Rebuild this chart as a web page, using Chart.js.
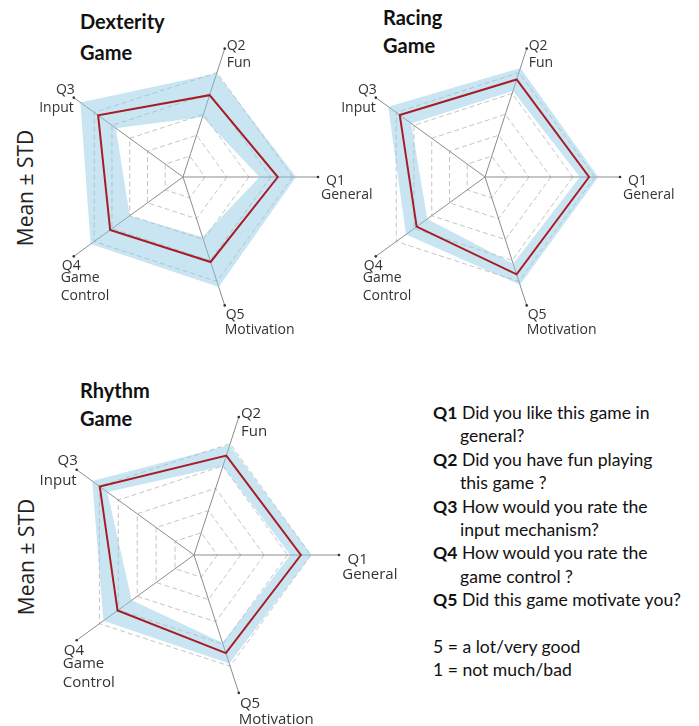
<!DOCTYPE html>
<html lang="en">
<head>
  <meta charset="UTF-8">
  <title>Game questionnaire</title>
  <script src="https://cdn.jsdelivr.net/npm/chart.js@4.4.1/dist/chart.umd.min.js"></script>
  <style>
    body {
      margin: 0;
      width: 699px;
      height: 726px;
      position: relative;
      overflow: hidden;
      background: #fff;
      font-family: Lato, sans-serif;
    }

    canvas {
      position: absolute;
    }

    .title {
      position: absolute;
      font-family: Lato, sans-serif;
      font-weight: bold;
      font-size: 20px;
      line-height: 20px;
      color: #111;
      white-space: nowrap;
    }

    .side {
      position: absolute;
      font-family: 'Open Sans', sans-serif;
      font-size: 21px;
      color: #222;
      white-space: nowrap;
      transform: translate(-50%, -50%) rotate(-90deg);
    }

    .legend {
      position: absolute;
      left: 433px;
      top: 401px;
      font-family: Lato, sans-serif;
      font-size: 17.6px;
      line-height: 23.4px;
      color: #111;
      white-space: nowrap;
    }

    .legend .ind {
      padding-left: 27px;
    }
  </style>
</head>
<body>
  <!-- titles -->
  <div class="title" style="left:80px; top:11px">Dexterity</div>
  <div class="title" style="left:80px; top:42px">Game</div>
  <div class="title" style="left:383px; top:7px">Racing</div>
  <div class="title" style="left:383px; top:35px">Game</div>
  <div class="title" style="left:80px; top:380px">Rhythm</div>
  <div class="title" style="left:80px; top:408px">Game</div>

  <div class="side" style="left:25px; top:188px">Mean ± STD</div>
  <div class="side" style="left:26px; top:557px">Mean ± STD</div>

  <canvas id="dexterity"></canvas>
  <canvas id="racing"></canvas>
  <canvas id="rhythm"></canvas>

  <!-- question key -->
  <div class="legend">
    <div><b>Q1</b> Did you like this game in</div>
    <div class="ind">general?</div>
    <div><b>Q2</b> Did you have fun playing</div>
    <div class="ind">this game ?</div>
    <div><b>Q3</b> How would you rate the</div>
    <div class="ind">input mechanism?</div>
    <div><b>Q4</b> How would you rate the</div>
    <div class="ind">game control ?</div>
    <div><b>Q5</b> Did this game motivate you?</div>
    <div>&nbsp;</div>
    <div>5 = a lot/very good</div>
    <div>1 = not much/bad</div>
  </div>

  <script>
    // questions Q1..Q5 and the words printed under them
    const questions = ['Q1', 'Q2', 'Q3', 'Q4', 'Q5'];
    const axisNames = [['General'], ['Fun'], ['Input'], ['Game', 'Control'], ['Motivation']];

    // mean score and standard deviation per question (Q1..Q5)
    const dexterityMean = [4.32, 3.92, 4.78, 4.10, 4.07];
    const dexterityStd  = [0.83, 1.05, 1.00, 1.10, 1.20];
    const racingMean    = [4.74, 4.67, 4.80, 3.85, 4.66];
    const racingStd     = [0.42, 0.55, 0.65, 0.60, 0.50];
    const rhythmMean    = [4.57, 4.47, 4.98, 4.04, 4.41];
    const rhythmStd     = [0.45, 0.48, 0.40, 0.75, 0.47];

    // Q1 sits on the right, then the axes go clockwise: Q5, Q4, Q3, Q2
    const drawOrder = [0, 4, 3, 2, 1];

    // label offsets from the dot at the end of each axis: [dx, dy, align] per line
    const labelPlace = [
      [[8, 4, 'left'], [3, 18, 'left']],
      [[2, -3, 'left'], [2, 14, 'left']],
      [[1, -8, 'right'], [0, 10, 'right']],
      [[-12, 10, 'left'], [-13, 22, 'left'], [-13, 40, 'left']],
      [[1, 10, 'left'], [0, 25, 'left']]
    ];

    const axisLabels = {
      id: 'axisLabels',
      afterDraw(chart, args, opts) {
        const r = chart.scales.r;
        const ctx = chart.ctx;
        const k = opts.k;
        ctx.save();
        ctx.font = opts.size + 'px "Open Sans"';
        ctx.fillStyle = '#333';
        ctx.textBaseline = 'middle';
        drawOrder.forEach((q, i) => {
          const p = r.getPointPosition(i, r.getDistanceFromCenterForValue(r.max));
          ctx.beginPath();
          ctx.arc(p.x, p.y, 1.3, 0, 2 * Math.PI);
          ctx.fill();
          const lines = [questions[q]].concat(axisNames[q]);
          lines.forEach((text, j) => {
            const [dx, dy, align] = labelPlace[q][j];
            ctx.textAlign = align;
            ctx.fillText(text, p.x + dx * k, p.y + dy * k);
          });
        });
        ctx.restore();
      }
    };

    function makeRadar(id, box, cx, cy, R, max, mean, std, fontSize) {
      const canvas = document.getElementById(id);
      canvas.width = box.w;
      canvas.height = box.h;
      canvas.style.left = box.x + 'px';
      canvas.style.top = box.y + 'px';

      const m = drawOrder.map(i => mean[i]);
      const upper = drawOrder.map(i => mean[i] + std[i]);
      const lower = drawOrder.map(i => mean[i] - std[i]);

      return new Chart(canvas.getContext('2d'), {
        type: 'radar',
        data: {
          labels: drawOrder.map(i => questions[i]),
          datasets: [{
            // mean line, drawn on top
            data: m,
            order: 0,
            fill: false,
            borderColor: '#a81c26',
            borderWidth: 2,
            pointRadius: 0
          }, {
            // +1 std, filled down to the -1 std line
            data: upper,
            order: 1,
            fill: '+1',
            backgroundColor: 'rgba(140,200,228,0.47)',
            borderColor: 'rgba(0,0,0,0)',
            pointRadius: 0
          }, {
            data: lower,
            order: 2,
            fill: false,
            borderColor: 'rgba(0,0,0,0)',
            pointRadius: 0
          }]
        },
        options: {
          responsive: false,
          animation: false,
          layout: {
            padding: {
              left: cx - R - box.x,
              top: cy - R - box.y,
              right: box.x + box.w - cx - R,
              bottom: box.y + box.h - cy - R
            }
          },
          elements: { line: { tension: 0 } },
          plugins: {
            legend: { display: false },
            tooltip: { enabled: false },
            axisLabels: { size: fontSize, k: R / 135 }
          },
          scales: {
            r: {
              min: 0,
              max: max,
              startAngle: 90,
              ticks: { display: false, stepSize: 1 },
              pointLabels: { display: false },
              grid: {
                color: c => (c.tick && c.tick.value > 0 && c.tick.value <= 5) ? '#c4c4c4' : 'rgba(0,0,0,0)',
                lineWidth: 1
              },
              border: { dash: [5, 3] },
              angleLines: { color: '#8c8c8c', lineWidth: 1 }
            }
          }
        },
        plugins: [axisLabels]
      });
    }

    makeRadar('dexterity', { x: 20, y: 20, w: 370, h: 325 }, 183, 177, 135, 6.15, dexterityMean, dexterityStd, 14);
    makeRadar('racing', { x: 335, y: 20, w: 364, h: 325 }, 485, 177, 135, 6.15, racingMean, racingStd, 14);
    makeRadar('rhythm', { x: 20, y: 390, w: 390, h: 336 }, 194, 555, 145, 6.2, rhythmMean, rhythmStd, 15);
  </script>
</body>
</html>
